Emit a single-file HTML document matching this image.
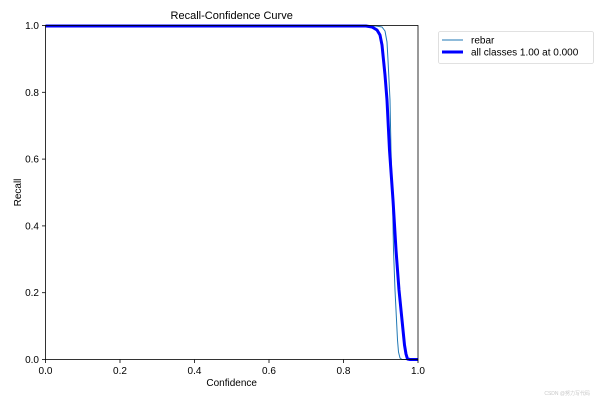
<!DOCTYPE html>
<html><head><meta charset="utf-8"><style>
html,body{margin:0;padding:0;background:#fff;}
svg{display:block;}
text{font-family:"Liberation Sans",Arial,"Noto Sans CJK SC",sans-serif;fill:#000;}
</style></head><body>
<svg width="600" height="400" viewBox="0 0 600 400" xmlns="http://www.w3.org/2000/svg">
<rect width="600" height="400" fill="#fff"/>
<!-- series -->
<polyline fill="none" stroke="#1f77b4" stroke-width="1" stroke-linejoin="round"
 points="45.5,26 376,26 382,27 385,31 387,42 388,60 389,80 390,100 391,150 392.5,200 393.5,250 395,290 396.5,320 397.5,340 398.5,352 400,358 402,359.5 418,359.5"/>
<polyline fill="none" stroke="#0000ff" stroke-width="3" stroke-linejoin="round"
 points="45.5,26 366,26 372,27 377,30 380,35 382,45 383.5,60 385,75 387,100 389.5,150 393,200 396,250 399,290 401,310 403,330 404.5,345 406,354 407.5,359 410,359.5 418,359.5"/>
<!-- axes frame -->
<rect x="45.5" y="25.5" width="372.5" height="334" fill="none" stroke="#000" stroke-width="0.8"/>
<!-- y ticks -->
<g stroke="#000" stroke-width="0.8">
<line x1="42" y1="359.5" x2="45.5" y2="359.5"/>
<line x1="42" y1="292.7" x2="45.5" y2="292.7"/>
<line x1="42" y1="225.9" x2="45.5" y2="225.9"/>
<line x1="42" y1="159.1" x2="45.5" y2="159.1"/>
<line x1="42" y1="92.3" x2="45.5" y2="92.3"/>
<line x1="42" y1="25.5" x2="45.5" y2="25.5"/>
<line x1="45.5" y1="359.5" x2="45.5" y2="363"/>
<line x1="120" y1="359.5" x2="120" y2="363"/>
<line x1="194.5" y1="359.5" x2="194.5" y2="363"/>
<line x1="269" y1="359.5" x2="269" y2="363"/>
<line x1="343.5" y1="359.5" x2="343.5" y2="363"/>
<line x1="418" y1="359.5" x2="418" y2="363"/>
</g>
<g font-size="10" text-anchor="end">
<text x="39" y="363">0.0</text>
<text x="39" y="296.2">0.2</text>
<text x="39" y="229.4">0.4</text>
<text x="39" y="162.6">0.6</text>
<text x="39" y="95.8">0.8</text>
<text x="39" y="29">1.0</text>
</g>
<g font-size="10" text-anchor="middle">
<text x="45.5" y="374">0.0</text>
<text x="120" y="374">0.2</text>
<text x="194.5" y="374">0.4</text>
<text x="269" y="374">0.6</text>
<text x="343.5" y="374">0.8</text>
<text x="418" y="374">1.0</text>
<text x="231.7" y="386">Confidence</text>
</g>
<text x="21" y="192.5" font-size="10" text-anchor="middle" transform="rotate(-90 21 192.5)">Recall</text>
<text x="231.7" y="19" font-size="11" text-anchor="middle">Recall-Confidence Curve</text>
<!-- legend -->
<rect x="438.5" y="31.5" width="155" height="32" rx="2" fill="#fff" stroke="#d8d8d8" stroke-width="0.8"/>
<line x1="442" y1="40" x2="463" y2="40" stroke="#1f77b4" stroke-width="1"/>
<line x1="442" y1="52" x2="463" y2="52" stroke="#0000ff" stroke-width="3"/>
<text x="471" y="43.5" font-size="10">rebar</text>
<text x="471" y="55.5" font-size="10">all classes 1.00 at 0.000</text>
<!-- watermark -->
<text x="590" y="395" font-size="5" text-anchor="end" style="fill:#c8c8c8">CSDN @努力写代码</text>
</svg>
</body></html>
